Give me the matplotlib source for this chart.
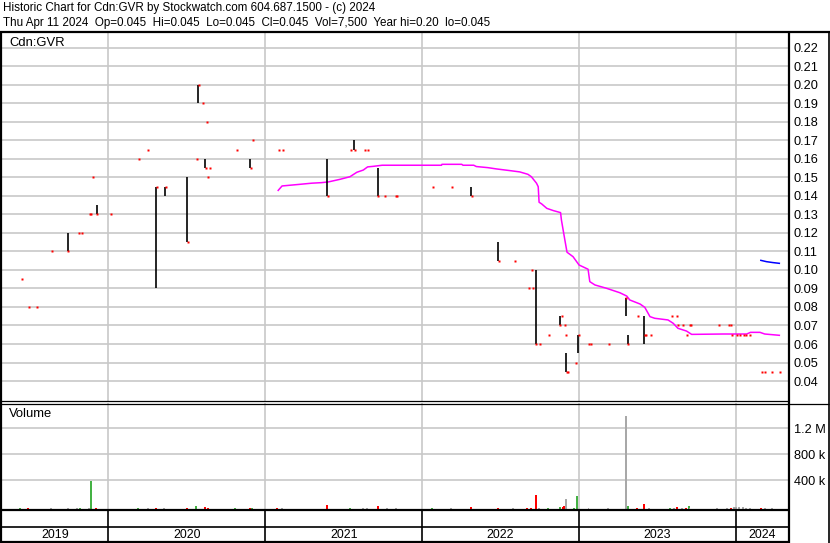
import matplotlib
matplotlib.use("Agg")
import matplotlib.pyplot as plt
import matplotlib.dates as mdates
from matplotlib.lines import Line2D
from matplotlib.ticker import FixedLocator, FixedFormatter
import numpy as np
import pandas as pd

plt.rcParams['font.family'] = ['Liberation Sans', 'DejaVu Sans']

# ---------------- data ----------------
trade_dates = ["2019-06-13", "2019-07-01", "2019-07-18", "2019-08-23", "2019-09-30", "2019-10-24",
               "2019-11-01", "2019-11-18", "2019-11-22", "2019-11-26", "2019-12-06", "2020-01-06",
               "2020-03-13", "2020-04-03", "2020-04-22", "2020-05-13", "2020-07-03", "2020-07-24",
               "2020-07-29", "2020-08-07", "2020-08-14", "2020-08-17", "2020-08-19", "2020-08-24",
               "2020-10-26", "2020-11-27", "2020-12-02", "2021-02-01", "2021-02-10", "2021-05-25",
               "2021-07-19", "2021-07-27", "2021-08-20", "2021-08-27", "2021-09-20", "2021-10-06",
               "2021-11-01", "2021-11-03", "2022-01-26", "2022-03-11", "2022-04-25", "2022-06-27",
               "2022-08-04", "2022-09-05", "2022-09-12", "2022-09-14", "2022-09-23", "2022-09-30",
               "2022-10-21", "2022-11-17", "2022-11-21", "2022-11-29", "2022-11-30", "2022-12-02",
               "2022-12-05", "2022-12-23", "2022-12-30", "2023-01-24", "2023-01-27", "2023-03-10",
               "2023-04-20", "2023-04-24", "2023-05-17", "2023-06-02", "2023-06-05", "2023-06-16",
               "2023-08-04", "2023-08-15", "2023-08-18", "2023-08-30", "2023-09-08", "2023-09-15",
               "2023-09-18", "2023-11-22", "2023-12-14", "2023-12-20", "2023-12-22", "2024-01-02",
               "2024-01-10", "2024-01-19", "2024-01-23", "2024-02-02", "2024-02-29", "2024-03-08",
               "2024-03-25", "2024-04-11"]
trade_high = [0.095, 0.08, 0.08, 0.11, 0.12, 0.12, 0.12, 0.13, 0.13, 0.15, 0.135, 0.13,
              0.16, 0.165, 0.145, 0.145, 0.15, 0.16, 0.20, 0.19, 0.16, 0.18, 0.15, 0.155,
              0.165, 0.16, 0.17, 0.165, 0.165, 0.16, 0.165, 0.17, 0.165, 0.165, 0.155, 0.14,
              0.14, 0.14, 0.145, 0.145, 0.145, 0.115, 0.105, 0.09, 0.10, 0.09, 0.10, 0.06,
              0.065, 0.075, 0.075, 0.07, 0.065, 0.055, 0.045, 0.05, 0.065, 0.06, 0.06, 0.06,
              0.085, 0.065, 0.075, 0.075, 0.065, 0.065, 0.075, 0.075, 0.07, 0.07, 0.065, 0.07,
              0.07, 0.07, 0.07, 0.07, 0.065, 0.065, 0.065, 0.065, 0.065, 0.065, 0.045, 0.045,
              0.045, 0.045]
trade_low = [0.095, 0.08, 0.08, 0.11, 0.11, 0.12, 0.12, 0.13, 0.13, 0.15, 0.13, 0.13,
             0.16, 0.165, 0.09, 0.14, 0.115, 0.16, 0.19, 0.19, 0.155, 0.18, 0.15, 0.155,
             0.165, 0.155, 0.17, 0.165, 0.165, 0.14, 0.165, 0.165, 0.165, 0.165, 0.14, 0.14,
             0.14, 0.14, 0.145, 0.145, 0.14, 0.105, 0.105, 0.09, 0.10, 0.09, 0.06, 0.06,
             0.065, 0.07, 0.075, 0.07, 0.065, 0.045, 0.045, 0.05, 0.055, 0.06, 0.06, 0.06,
             0.075, 0.06, 0.075, 0.06, 0.065, 0.065, 0.075, 0.075, 0.07, 0.07, 0.065, 0.07,
             0.07, 0.07, 0.07, 0.07, 0.065, 0.065, 0.065, 0.065, 0.065, 0.065, 0.045, 0.045,
             0.045, 0.045]
trade_close = [0.095, 0.08, 0.08, 0.11, 0.11, 0.12, 0.12, 0.13, 0.13, 0.15, 0.13, 0.13,
               0.16, 0.165, 0.145, 0.145, 0.115, 0.16, 0.20, 0.19, 0.155, 0.18, 0.15, 0.155,
               0.165, 0.155, 0.17, 0.165, 0.165, 0.14, 0.165, 0.165, 0.165, 0.165, 0.14, 0.14,
               0.14, 0.14, 0.145, 0.145, 0.14, 0.105, 0.105, 0.09, 0.10, 0.09, 0.06, 0.06,
               0.065, 0.07, 0.075, 0.07, 0.065, 0.045, 0.045, 0.05, 0.065, 0.06, 0.06, 0.06,
               0.085, 0.06, 0.075, 0.065, 0.065, 0.065, 0.075, 0.075, 0.07, 0.07, 0.065, 0.07,
               0.07, 0.07, 0.07, 0.07, 0.065, 0.065, 0.065, 0.065, 0.065, 0.065, 0.045, 0.045,
               0.045, 0.045]

ma_dates = ["2021-01-31", "2021-02-09", "2021-03-23", "2021-04-19", "2021-05-12", "2021-05-28",
            "2021-06-24", "2021-07-17", "2021-08-02", "2021-08-17", "2021-08-27", "2021-09-09",
            "2021-09-30", "2022-02-15", "2022-02-16", "2022-04-03", "2022-04-06", "2022-05-01",
            "2022-05-07", "2022-06-03", "2022-06-23", "2022-07-24", "2022-08-16", "2022-09-04",
            "2022-09-12", "2022-09-24", "2022-09-28", "2022-09-30", "2022-10-06", "2022-10-18",
            "2022-11-02", "2022-11-19", "2022-11-21", "2022-11-29", "2022-12-04", "2022-12-18",
            "2023-01-01", "2023-01-22", "2023-01-26", "2023-02-07", "2023-03-06", "2023-04-06",
            "2023-04-22", "2023-04-29", "2023-05-23", "2023-06-03", "2023-06-15", "2023-06-26",
            "2023-07-27", "2023-08-08", "2023-08-19", "2023-09-08", "2023-09-20", "2023-12-02",
            "2024-01-26", "2024-02-04", "2024-02-26", "2024-03-08", "2024-04-11"]
ma_values = [0.1430, 0.1454, 0.1463, 0.1469, 0.1472, 0.1476, 0.1490, 0.1504, 0.1528, 0.1540,
             0.1557, 0.1560, 0.1566, 0.1566, 0.1571, 0.1571, 0.1566, 0.1566, 0.1559, 0.1553,
             0.1546, 0.1537, 0.1530, 0.1517, 0.1504, 0.1469, 0.1450, 0.1366, 0.1357, 0.1333,
             0.1321, 0.1310, 0.1270, 0.1162, 0.1096, 0.1072, 0.1027, 0.1004, 0.0937, 0.0919,
             0.0901, 0.0877, 0.0859, 0.0838, 0.0816, 0.0798, 0.0748, 0.0739, 0.0730, 0.0712,
             0.0685, 0.0670, 0.0652, 0.0654, 0.0654, 0.0663, 0.0663, 0.0654, 0.0647]

ma2_dates = ["2024-02-28", "2024-03-12", "2024-03-27", "2024-04-11"]
ma2_values = [0.1052, 0.1045, 0.1040, 0.1036]

vol_dates = ["2019-06-10", "2019-06-28", "2019-08-21", "2019-09-30", "2019-10-21", "2019-10-29",
             "2019-11-18", "2019-11-22", "2019-12-05", "2020-03-10", "2020-04-03", "2020-04-21",
             "2020-05-11", "2020-07-02", "2020-07-24", "2020-08-13", "2020-08-20", "2020-10-23",
             "2020-11-26", "2020-11-30", "2021-01-29", "2021-02-08", "2021-05-24", "2021-07-16",
             "2021-08-16", "2021-08-25", "2021-09-20", "2021-10-11", "2021-11-01", "2022-01-24",
             "2022-03-08", "2022-04-25", "2022-06-27", "2022-08-01", "2022-09-02", "2022-09-12",
             "2022-09-23", "2022-09-29", "2022-10-21", "2022-11-18", "2022-11-24", "2022-11-28",
             "2022-12-02", "2022-12-20", "2022-12-28", "2023-01-23", "2023-03-10", "2023-04-21",
             "2023-04-24", "2023-05-15", "2023-06-02", "2023-06-13", "2023-07-31", "2023-08-10",
             "2023-08-16", "2023-08-28", "2023-09-07", "2023-09-13", "2023-09-15", "2023-11-17",
             "2023-12-11", "2023-12-20", "2023-12-27", "2024-01-02", "2024-01-09", "2024-01-17",
             "2024-01-24", "2024-02-02", "2024-02-28", "2024-03-08", "2024-03-25", "2024-04-11"]
vol_values = [10e3, 10e3, 8e3, 10e3, 15e3, 12e3, 12e3, 430e3, 15e3, 10e3, 10e3, 12e3,
              8e3, 10e3, 40e3, 25e3, 20e3, 12e3, 15e3, 10e3, 15e3, 8e3, 60e3, 10e3,
              12e3, 10e3, 45e3, 10e3, 10e3, 10e3, 8e3, 35e3, 15e3, 8e3, 15e3, 15e3,
              215e3, 10e3, 10e3, 25e3, 30e3, 50e3, 150e3, 10e3, 200e3, 10e3, 8e3, 1430e3,
              40e3, 15e3, 80e3, 12e3, 12e3, 15e3, 25e3, 20e3, 15e3, 40e3, 15e3, 10e3,
              10e3, 15e3, 30e3, 30e3, 30e3, 30e3, 20e3, 15e3, 15e3, 10e3, 10e3, 7.5e3]
vol_kind = ["up", "down", "flat", "flat", "flat", "up", "flat", "up", "down", "up", "flat", "down",
            "flat", "down", "up", "down", "down", "up", "down", "up", "down", "flat", "down", "up",
            "flat", "flat", "down", "flat", "flat", "up", "flat", "down", "down", "flat", "down", "down",
            "down", "flat", "up", "up", "down", "down", "flat", "up", "up", "flat", "flat", "flat",
            "up", "down", "down", "flat", "up", "flat", "down", "flat", "down", "up", "flat", "flat",
            "flat", "down", "flat", "flat", "flat", "flat", "flat", "flat", "down", "flat", "flat", "flat"]

year_starts = ["2020-01-01", "2021-01-01", "2022-01-01", "2023-01-01", "2024-01-01"]
year_labels = ["2019", "2020", "2021", "2022", "2023", "2024"]
price_ticks = [0.04, 0.05, 0.06, 0.07, 0.08, 0.09, 0.10, 0.11, 0.12, 0.13, 0.14, 0.15,
               0.16, 0.17, 0.18, 0.19, 0.20, 0.21, 0.22]
vol_ticks = [400e3, 800e3, 1.2e6]
vol_tick_labels = ["400 k", "800 k", "1.2 M"]

header1 = "Historic Chart for Cdn:GVR by Stockwatch.com 604.687.1500 - (c) 2024"
header2 = ("Thu Apr 11 2024  Op=0.045  Hi=0.045  Lo=0.045  Cl=0.045  Vol=7,500  "
           "Year hi=0.20  lo=0.045")

# ---------------- layout ----------------
W, H = 830, 543
fig = plt.figure(figsize=(W / 100, H / 100), dpi=100)
fig.patch.set_facecolor("white")


def fx(px):
    return px / W


def fy(py):
    return 1 - py / H


def d2n(s):
    return mdates.date2num(pd.Timestamp(s))


x0 = d2n("2019-04-29") + 0.4
x1 = d2n("2024-05-03") + 0.5
grid_c = "#c8c8c8"
FS_TICK = 9.2
FS_LAB = 9.4
FS_HEAD = 8.4
FS_YEAR = 8.9

ax_p = fig.add_axes([fx(2), fy(401), fx(789) - fx(2), fy(32) - fy(401)])
ax_v = fig.add_axes([fx(2), fy(509), fx(789) - fx(2), fy(403) - fy(509)])
ax_s = fig.add_axes([fx(2), fy(542), fx(789) - fx(2), fy(509) - fy(542)])

for ax in (ax_p, ax_v, ax_s):
    ax.set_xlim(x0, x1)
    for sp in ax.spines.values():
        sp.set_visible(False)
    ax.set_xticks([])
    ax.set_facecolor("white")

ys = [d2n(s) for s in year_starts]

# price panel
ax_p.set_ylim(0.0292, 0.2286)
ax_p.yaxis.set_major_locator(FixedLocator(price_ticks))
ax_p.yaxis.set_major_formatter(FixedFormatter(["%.2f" % t for t in price_ticks]))
ax_p.tick_params(axis="y", left=False, labelleft=False, right=False, labelright=True,
                 length=0, pad=3.5, labelsize=FS_TICK)
for t in price_ticks:
    ax_p.axhline(t, color=grid_c, lw=1.2, zorder=0)
for xv in ys:
    ax_p.axvline(xv, color=grid_c, lw=1.2, zorder=0)

td = np.array([d2n(s) for s in trade_dates])
th = np.array(trade_high)
tl = np.array(trade_low)
tc = np.array(trade_close)
rng = th > tl + 1e-9
ax_p.vlines(td[rng], tl[rng], th[rng], color="black", lw=1.2, zorder=3)
ax_p.plot(td + 1.0, tc, ls="none", marker="s", ms=2.0, mfc="#ff0000", mec="none",
          antialiased=False, zorder=4)
ax_p.plot([d2n(s) for s in ma_dates], ma_values, color="#ff00ff", lw=1.1, zorder=2)
ax_p.plot([d2n(s) for s in ma2_dates], ma2_values, color="#0000ff", lw=1.1, zorder=2)
ax_p.text(fx(7) / (fx(789) - fx(2)), 0.971, "Cdn:GVR", transform=ax_p.transAxes,
          fontsize=FS_LAB, va="center", ha="left")

# volume panel
vmin, vmax = -41.5e3, 1.589e6
ax_v.set_ylim(vmin, vmax)
ax_v.yaxis.set_major_locator(FixedLocator(vol_ticks))
ax_v.yaxis.set_major_formatter(FixedFormatter(vol_tick_labels))
ax_v.tick_params(axis="y", left=False, labelleft=False, right=False, labelright=True,
                 length=0, pad=3.5, labelsize=FS_TICK)
for t in vol_ticks:
    ax_v.axhline(t, color=grid_c, lw=1.2, zorder=0)
for xv in ys:
    ax_v.axvline(xv, color=grid_c, lw=1.2, zorder=0)
kind_color = {"up": "#44b244", "down": "#ff0000", "flat": "#a8a8a8"}
vd = [d2n(s) for s in vol_dates]
ax_v.bar(vd, vol_values, bottom=vmin, width=4.6, align="center",
         color=[kind_color[k] for k in vol_kind], lw=0, zorder=3)
ax_v.text(fx(7) / (fx(789) - fx(2)), 0.9, "Volume", transform=ax_v.transAxes,
          fontsize=FS_LAB, va="center", ha="left")

# date strip
ax_s.set_ylim(0, 1)
ax_s.set_yticks([])
for xv in ys:
    ax_s.axvline(xv, color="black", lw=1.2)
bounds = [x0] + ys + [x1]
for i, lab in enumerate(year_labels):
    ax_s.text((bounds[i] + bounds[i + 1]) / 2, 0.2, lab, ha="center", va="center",
              fontsize=FS_YEAR)

# frame lines (figure pixel coordinates)


def hline(py, xa, xb, lw):
    fig.add_artist(Line2D([fx(xa), fx(xb)], [fy(py), fy(py)], color="black", lw=lw,
                          transform=fig.transFigure, solid_capstyle="butt"))


def vline(px, ya, yb, lw):
    fig.add_artist(Line2D([fx(px), fx(px)], [fy(ya), fy(yb)], color="black", lw=lw,
                          transform=fig.transFigure, solid_capstyle="butt"))


hline(31.5, 0, 830, 1.6)
hline(401, 0, 789, 0.9)
hline(403.5, 0, 829, 0.9)
hline(509.5, 0, 789, 1.6)
hline(527, 0, 789, 1.2)
hline(542, 0, 789, 1.6)
vline(1, 31, 543, 1.6)
vline(789, 31, 543, 1.6)
vline(828.5, 31, 543, 1.2)

fig.text(fx(3), fy(8.5), header1, fontsize=FS_HEAD, va="center", ha="left")
fig.text(fx(3), fy(23), header2, fontsize=FS_HEAD, va="center", ha="left")

fig.savefig("out.png", dpi=100, facecolor="white")
